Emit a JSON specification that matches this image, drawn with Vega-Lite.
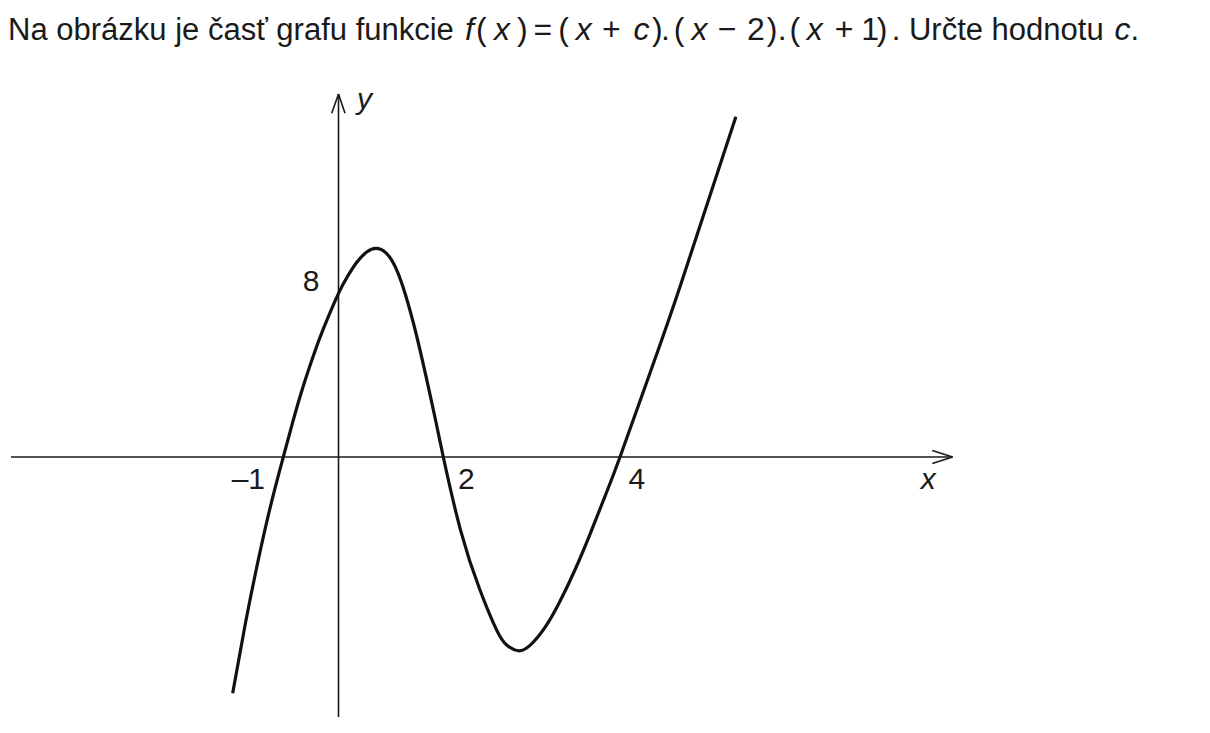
{
  "$schema": "https://vega.github.io/schema/vega-lite/v6.json",
  "width": 1210,
  "height": 733,
  "autosize": {"type": "none"},
  "padding": 0,
  "background": "white",
  "config": {"view": {"stroke": null}, "text": {"font": "Liberation Sans", "color": "#1a1a1a"}},
  "datasets": {
    "curve": [
      {"x": -1.917, "y": -11.55}, {"x": -1.688, "y": -8.15}, {"x": -1.458, "y": -5.09}, {"x": -1.229, "y": -2.37},
      {"x": -1, "y": 0}, {"x": -0.819, "y": 1.81}, {"x": -0.638, "y": 3.47}, {"x": -0.457, "y": 4.94},
      {"x": -0.275, "y": 6.26}, {"x": 0, "y": 8}, {"x": 0.181, "y": 8.87}, {"x": 0.353, "y": 9.53},
      {"x": 0.538, "y": 10.02}, {"x": 0.716, "y": 10.2}, {"x": 0.906, "y": 9.98}, {"x": 1.097, "y": 9.22},
      {"x": 1.288, "y": 7.85}, {"x": 1.479, "y": 6.05}, {"x": 1.67, "y": 3.94}, {"x": 1.861, "y": 1.7},
      {"x": 2, "y": 0}, {"x": 2.195, "y": -3.57}, {"x": 2.415, "y": -6.5}, {"x": 2.604, "y": -8.46},
      {"x": 2.718, "y": -9.19}, {"x": 2.849, "y": -9.47}, {"x": 2.981, "y": -9.21}, {"x": 3.151, "y": -8.33},
      {"x": 3.321, "y": -7.05}, {"x": 3.491, "y": -5.51}, {"x": 3.66, "y": -3.78}, {"x": 3.83, "y": -1.92},
      {"x": 4, "y": 0}, {"x": 4.34, "y": 4.11}, {"x": 4.679, "y": 8.31}, {"x": 5.313, "y": 16.63}
    ],
    "axes": [
      {"x": -5.933, "y": 0, "x2": 7.769, "y2": 0},
      {"x": 7.539, "y": 0.32, "x2": 7.769, "y2": 0},
      {"x": 7.539, "y": -0.32, "x2": 7.769, "y2": 0},
      {"x": 0, "y": -12.71, "x2": 0, "y2": 17.74},
      {"x": -0.123, "y": 16.8, "x2": 0, "y2": 17.74},
      {"x": 0.124, "y": 16.8, "x2": 0, "y2": 17.74}
    ],
    "ticks": [
      {"x": -1.935, "y": -1.56, "t": "–1"},
      {"x": 2.166, "y": -1.56, "t": "2"},
      {"x": 4.096, "y": -1.56, "t": "4"},
      {"x": -0.649, "y": 8.11, "t": "8"}
    ],
    "names": [
      {"x": 7.407, "y": -1.58, "t": "x"},
      {"x": 0.353, "y": 17.01, "t": "y"}
    ],
    "titlePlain": [
      {"x": -5.987, "y": 20.38, "t": "Na obrázku je časť grafu funkcie"},
      {"x": 7.079, "y": 20.38, "t": ". Určte hodnotu"},
      {"x": 9.784, "y": 20.38, "t": "."}
    ],
    "formulaPlain": [
      {"x": 2.37, "y": 20.38, "t": "("},
      {"x": 2.834, "y": 20.38, "t": ")"},
      {"x": 3.021, "y": 20.38, "t": "="},
      {"x": 3.3, "y": 20.38, "t": "("},
      {"x": 3.796, "y": 20.38, "t": "+"},
      {"x": 4.362, "y": 20.38, "t": ")"},
      {"x": 4.464, "y": 20.38, "t": "."},
      {"x": 4.61, "y": 20.38, "t": "("},
      {"x": 5.109, "y": 20.38, "t": "−"},
      {"x": 5.438, "y": 20.38, "t": "2"},
      {"x": 5.664, "y": 20.38, "t": ")"},
      {"x": 5.788, "y": 20.38, "t": "."},
      {"x": 5.92, "y": 20.38, "t": "("},
      {"x": 6.434, "y": 20.38, "t": "+"},
      {"x": 6.735, "y": 20.38, "t": "1"},
      {"x": 6.909, "y": 20.38, "t": ")"}
    ],
    "formulaItalic": [
      {"x": 2.245, "y": 20.38, "t": "f"},
      {"x": 2.575, "y": 20.38, "t": "x"},
      {"x": 3.5, "y": 20.38, "t": "x"},
      {"x": 4.153, "y": 20.38, "t": "c"},
      {"x": 4.81, "y": 20.38, "t": "x"},
      {"x": 6.115, "y": 20.38, "t": "x"},
      {"x": 9.603, "y": 20.38, "t": "c"}
    ]
  },
  "encoding": {
    "x": {"field": "x", "type": "quantitative", "axis": null,
          "scale": {"type": "linear", "domain": [-6.132, -1, 0, 2, 4, 10.686], "range": [0, 283.3, 338.5, 443.3, 620, 1210], "nice": false, "zero": false}},
    "y": {"field": "y", "type": "quantitative", "axis": null,
          "scale": {"type": "linear", "domain": [-13.49, 22.34], "nice": false, "zero": false}}
  },
  "layer": [
    {
      "data": {"name": "axes"},
      "mark": {"type": "rule", "stroke": "#1a1a1a", "strokeWidth": 1.6},
      "encoding": {"x2": {"field": "x2"}, "y2": {"field": "y2"}}
    },
    {
      "data": {"name": "curve"},
      "mark": {"type": "line", "stroke": "#111111", "strokeWidth": 3.2, "interpolate": "natural"},
      "encoding": {}
    },
    {
      "data": {"name": "ticks"},
      "mark": {"type": "text", "align": "left", "baseline": "alphabetic", "fontSize": 30},
      "encoding": {"text": {"field": "t", "type": "nominal"}}
    },
    {
      "data": {"name": "names"},
      "mark": {"type": "text", "align": "left", "baseline": "alphabetic", "fontSize": 30, "fontStyle": "italic"},
      "encoding": {"text": {"field": "t", "type": "nominal"}}
    },
    {
      "data": {"name": "titlePlain"},
      "mark": {"type": "text", "align": "left", "baseline": "alphabetic", "fontSize": 31},
      "encoding": {"text": {"field": "t", "type": "nominal"}}
    },
    {
      "data": {"name": "formulaPlain"},
      "mark": {"type": "text", "align": "left", "baseline": "alphabetic", "fontSize": 32},
      "encoding": {"text": {"field": "t", "type": "nominal"}}
    },
    {
      "data": {"name": "formulaItalic"},
      "mark": {"type": "text", "align": "left", "baseline": "alphabetic", "fontSize": 32, "fontStyle": "italic"},
      "encoding": {"text": {"field": "t", "type": "nominal"}}
    }
  ]
}
